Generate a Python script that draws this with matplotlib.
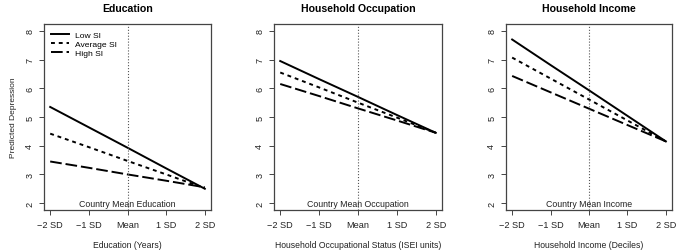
import matplotlib
matplotlib.use('Agg')
import matplotlib.pyplot as plt

plt.rcParams['font.family'] = ['Liberation Sans', 'DejaVu Sans']

x_vals = [-2, -1, 0, 1, 2]
x_labels = ['\u22122 SD', '\u22121 SD', 'Mean', '1 SD', '2 SD']

titles = ['Education', 'Household Occupation', 'Household Income']
xlabels = ['Education (Years)', 'Household Occupational Status (ISEI units)',
           'Household Income (Deciles)']
mean_labels = ['Country Mean Education', 'Country Mean Occupation',
               'Country Mean Income']

# predicted depression at -2, -1, mean, +1, +2 SD
low_si = [
    [5.35, 4.64, 3.93, 3.21, 2.50],
    [6.95, 6.32, 5.70, 5.07, 4.45],
    [7.70, 6.81, 5.93, 5.04, 4.15],
]
avg_si = [
    [4.42, 3.95, 3.47, 3.00, 2.52],
    [6.55, 6.03, 5.50, 4.98, 4.45],
    [7.07, 6.34, 5.61, 4.88, 4.15],
]
high_si = [
    [3.45, 3.23, 3.00, 2.78, 2.55],
    [6.15, 5.73, 5.30, 4.88, 4.45],
    [6.43, 5.86, 5.29, 4.72, 4.15],
]

fig = plt.figure(figsize=(6.78, 2.53), dpi=100)
lefts = [44, 274, 506]
widths = [167, 168, 166]

for i in range(3):
    ax = fig.add_axes([lefts[i] / 678, 1 - 211 / 253, widths[i] / 678, 186 / 253])
    ax.plot(x_vals, low_si[i], color='black', lw=1.4, ls='-', label='Low SI')
    ax.plot(x_vals, avg_si[i], color='black', lw=1.4, ls=(0, (2, 2)), label='Average SI')
    ax.plot(x_vals, high_si[i], color='black', lw=1.4, ls=(0, (6, 2)), label='High SI')
    ax.axvline(0, color='#555555', lw=0.8, ls=':')
    ax.text(0, 2.0, mean_labels[i], ha='center', va='center', fontsize=6.3, color='#222222')
    ax.set_xlim(-2.16, 2.16)
    ax.set_ylim(1.76, 8.24)
    ax.set_xticks(x_vals)
    ax.set_xticklabels(x_labels)
    ax.set_yticks([2, 3, 4, 5, 6, 7, 8])
    ax.set_yticklabels(['2', '3', '4', '5', '6', '7', '8'], rotation=90, va='center')
    ax.tick_params(labelsize=6.6, length=3.5, width=0.7, color='#444444', labelcolor='#222222')
    for s in ax.spines.values():
        s.set_linewidth(0.9)
        s.set_color('#444444')
    ax.set_title(titles[i], fontsize=7.6, fontweight='bold', pad=9)
    ax.set_xlabel(xlabels[i], fontsize=6.2, color='#222222', labelpad=8)
    if i == 0:
        ax.set_ylabel('Predicted Depression', fontsize=6, color='#222222', labelpad=6)
        ax.legend(loc='upper left', frameon=False, fontsize=6.1, handlelength=2.2,
                  handletextpad=0.7, borderaxespad=0.5, borderpad=0.3, labelspacing=0.12)

fig.savefig('out.png', dpi=100)
